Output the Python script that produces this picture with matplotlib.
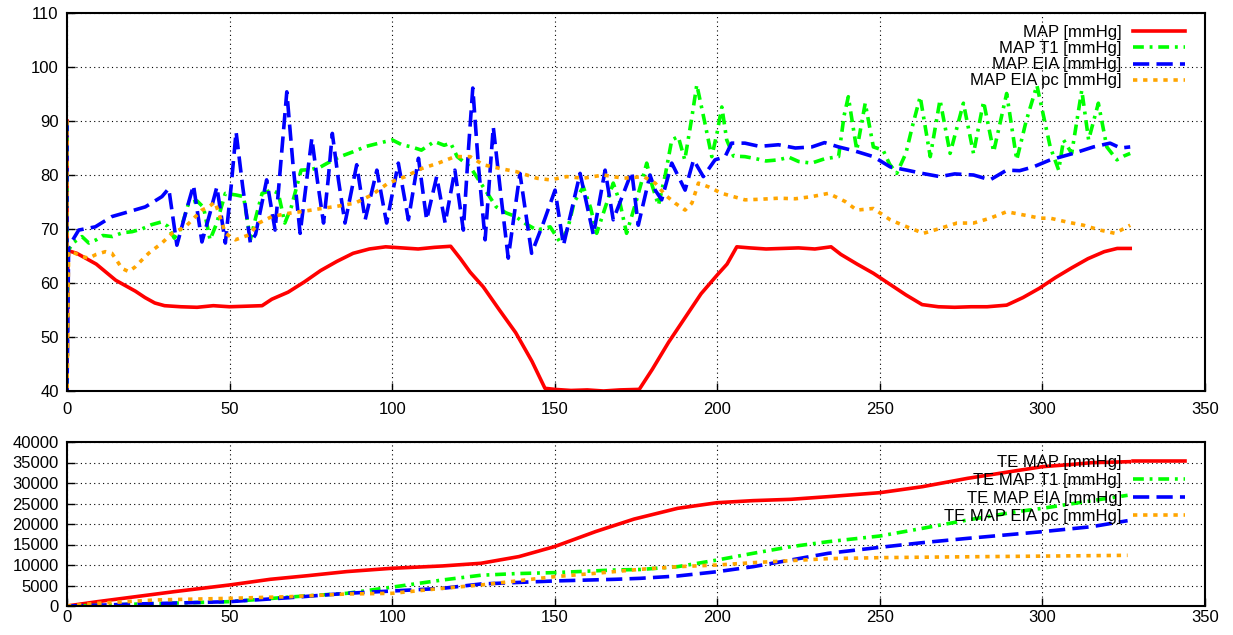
import numpy as np
import matplotlib
matplotlib.use('Agg')
import matplotlib.pyplot as plt

plt.rcParams['font.family'] = ['Liberation Sans', 'DejaVu Sans']
plt.rcParams['font.size'] = 12

# (time, value) samples
map_red = [(0, 90), (0, 40), (0.3, 66), (3, 65.5), (6, 64.5), (9, 63.5), (12, 62), (15, 60.5), (18, 59.5),
           (21, 58.5), (24, 57.3), (27, 56.3), (30, 55.8), (35, 55.6), (40, 55.5), (45, 55.8), (50, 55.6),
           (55, 55.7), (60, 55.8), (63, 57), (68, 58.3), (73, 60.2), (78, 62.3), (83, 64), (88, 65.5),
           (93, 66.3), (98, 66.7), (103, 66.5), (108, 66.3), (113, 66.6), (118, 66.8), (121, 64.5),
           (124, 62), (128, 59.3), (133, 55), (138, 50.8), (143, 45.5), (147, 40.5), (150, 40.3),
           (155, 40.1), (160, 40.2), (165, 40.0), (170, 40.2), (176, 40.3), (180, 44), (185, 49),
           (190, 53.5), (195, 58), (200, 61.5), (203, 63.5), (206, 66.7), (210, 66.5), (215, 66.3),
           (220, 66.4), (225, 66.5), (230, 66.3), (235, 66.7), (238, 65.3), (243, 63.5), (248, 61.8),
           (253, 59.8), (258, 57.8), (263, 56), (268, 55.6), (273, 55.5), (278, 55.6), (283, 55.6),
           (289, 55.9), (294, 57.3), (299, 59), (304, 61), (309, 62.8), (314, 64.5), (319, 65.8),
           (323, 66.4), (327, 66.4)]

map_t1 = [(0, 90), (0, 40), (0.3, 66), (2, 67.5), (4.6, 68.6), (6.7, 67.4), (9, 68), (11, 68.8), (14, 68.6),
          (17, 69.3), (20, 69.5), (23, 70), (26, 70.8), (29, 71.3), (31, 70.5), (33, 68.3), (35, 70),
          (37.4, 74.8), (40, 75.2), (42, 74), (44, 68), (46, 71), (48.7, 76.6), (52, 76.3), (54.3, 76),
          (56.4, 68), (58, 72), (60, 76.6), (63, 77.2), (65, 76.6), (67, 71.1), (69, 74.1), (72, 80.9),
          (75, 81), (78, 81.5), (81, 82.5), (84, 83.4), (88, 84.3), (92, 85.3), (96, 85.9), (100, 86.5),
          (103, 85.6), (106, 85.2), (109, 84.6), (113, 86.2), (116, 85.5), (118, 85.9), (120, 83.4),
          (124, 81.5), (128, 77.8), (132, 74.1), (135, 73), (138, 72.3), (141, 71), (144.5, 69.8),
          (148.6, 70.4), (151.7, 67.5), (154, 70), (156, 75), (158.8, 77.8), (161, 74), (162.9, 69.2),
          (165, 73), (168, 78.5), (170, 75), (172.1, 69.2), (175, 75), (178.3, 82.2), (180, 78),
          (181.9, 74.4), (184, 80), (186, 86.5), (188, 87.1), (190, 82.8), (192, 90), (193.7, 96.7),
          (196.2, 89.6), (198.3, 83.4), (200, 88), (201.4, 92.6), (202.9, 86.5), (205, 83.5),
          (208.5, 83.4), (212, 83), (215, 82.6), (218.8, 82.8), (222, 83.3), (225, 82.5), (229, 82.2),
          (233, 83), (237.3, 83.4), (239, 91), (240.3, 94.5), (242.9, 84.6), (245.5, 93.3), (248, 85.2),
          (251, 84.6), (253, 82), (255.2, 80.3), (258, 84), (260, 89), (262.4, 94.5), (265.5, 83.4),
          (268.5, 93.9), (271.6, 84), (275.7, 93.3), (278.8, 84), (281.9, 93.6), (285, 84.3), (289, 95.1),
          (292.1, 82.8), (295, 90), (298.3, 96.6), (302.4, 85.2), (305, 80.9), (306.5, 86.5), (309, 84),
          (312.1, 95.7), (314.2, 86.5), (317.2, 93.3), (319.8, 85.2), (322.9, 82.8), (325, 83.5), (327, 84)]

map_eia = [(0, 90), (0, 40), (0.5, 66.7), (3.6, 69.8), (8.7, 70.4), (13.8, 72.3), (19, 73.2), (24.1, 74.1),
           (29.2, 76), (31.3, 77.5), (33.8, 67), (36.5, 73), (38.9, 78.1), (41.5, 67.6), (44, 73),
           (46.1, 77.8), (48.7, 67.4), (50.5, 78), (52, 88), (54, 78), (56.4, 67.4), (58, 69), (61.4, 79.1),
           (64, 69.8), (66, 84), (67.6, 95.4), (69.5, 82), (71.7, 69.2), (73.5, 78), (75.3, 86.8), (77, 79),
           (78.9, 71.1), (80.3, 79), (81.6, 87.7), (83.5, 79), (85.5, 71.1), (89.1, 81.9), (91.7, 71.7),
           (95.3, 80.9), (98.3, 71.1), (101.9, 82.2), (105, 71.7), (108.1, 83.1), (110.6, 71.7),
           (113.7, 79.7), (116.3, 71.1), (119.3, 80.9), (121.9, 69.8), (123.5, 85), (124.8, 96.1),
           (126.5, 82), (128.6, 68), (131.1, 88.9), (133.5, 76), (135.7, 64.6), (139.3, 80.3),
           (142.9, 65.5), (146.5, 71.1), (150.1, 77.2), (152.7, 67), (157.8, 80.3), (161.9, 68.9),
           (165.5, 80.9), (168, 71.7), (173.7, 80.6), (175.7, 70.7), (179.3, 80), (180.9, 77.2),
           (182.9, 75.4), (186, 82.2), (190.1, 77.2), (192.7, 82.8), (195.7, 79.7), (199.3, 82.8),
           (202.4, 83.4), (204.4, 85.9), (208.5, 85.9), (213, 85.3), (218.8, 85.6), (224, 85),
           (229.1, 85.2), (233, 86), (237.3, 85.2), (242, 84.5), (248, 83.4), (253.2, 81.5), (258.3, 80.9),
           (263, 80.3), (268.5, 79.7), (273, 80.2), (278.8, 80), (283.9, 79.1), (289, 80.9), (293, 80.8),
           (297.2, 81.5), (302.4, 82.8), (309.5, 84), (315.7, 85.2), (320.8, 85.9), (324, 85), (327, 85.2)]

map_eia_pc = [(0, 90), (0, 40), (0.5, 65.8), (2.5, 65.5), (4.6, 64.9), (6.7, 64.6), (9, 65.3), (11.8, 65.8),
              (13.8, 65.5), (15.5, 64), (16.9, 62.7), (19, 62.1), (21, 63), (23.1, 64.3), (25.1, 65.5),
              (29.2, 67.4), (32.3, 69.2), (36.4, 70.4), (39.5, 72.3), (41.5, 73.5), (43.6, 74.1), (45.5, 75),
              (46.7, 72.9), (48.7, 69.2), (51.8, 68), (55.9, 68.9), (59, 71.1), (63, 72.3), (68.1, 72.9),
              (73, 73.3), (78.3, 73.8), (83, 74.2), (88.6, 74.8), (93.7, 76.3), (98.8, 78.5), (104, 79.7),
              (109.1, 81.2), (114.2, 82.2), (119.3, 83.4), (124, 83.4), (128, 81.9), (133.2, 81.2),
              (138.3, 80.6), (144.5, 79.4), (148.6, 79.1), (153.7, 79.7), (158.8, 79.4), (165, 80),
              (171.1, 79.4), (177.3, 79.7), (180.9, 78.5), (184, 76.3), (187, 74.8), (190.1, 73.5),
              (192.2, 74.8), (194.2, 78.5), (197.3, 77.8), (201.4, 76.6), (208.5, 75.4), (213, 75.5),
              (218.8, 75.7), (224, 75.6), (229.1, 76), (234.2, 76.6), (239.3, 75.1), (242.9, 73.5),
              (248, 73.8), (253.2, 71.7), (258.3, 70.4), (263.4, 69.2), (268.5, 70.1), (273.7, 71.1),
              (278.8, 71.1), (283.9, 72), (289, 73.2), (294.2, 72.6), (299.3, 72), (302.4, 72),
              (307.5, 71.3), (312.6, 70.7), (317.7, 69.8), (322.3, 69.2), (327, 70.7)]

te_map = [(0, 0), (9.4, 1060), (21.2, 2280), (33, 3500), (50, 5130), (62.5, 6510), (74.2, 7410), (86, 8390),
          (100, 9200), (115.5, 9770), (127.3, 10420), (139, 12050), (150, 14500), (162.6, 18160),
          (174.4, 21200), (187.8, 23820), (200, 25200), (211, 25700), (222.6, 26020), (234.1, 26670),
          (250, 27640), (263.1, 29100), (277, 31140), (292, 33000), (300, 33980), (309.4, 34550),
          (315.2, 34960), (326.7, 35200)]

te_t1 = [(0, 0), (10, 150), (21, 450), (35, 750), (50, 1060), (68.6, 2200), (86, 3090), (100, 4600),
         (115.5, 6350), (127.3, 7500), (138, 7900), (150, 8140), (168.5, 8790), (176.3, 8900),
         (187.8, 9590), (200, 11220), (211, 12850), (222.6, 14470), (234.1, 15690), (250, 17070),
         (263.1, 18940), (277, 20980), (292, 23000), (300, 23820), (315.2, 25690), (326.2, 27000)]

te_eia = [(0, 0), (10, 200), (21.2, 490), (35, 750), (50, 1060), (68.6, 2040), (86, 3090), (100, 3660),
          (115.5, 4310), (127.3, 5370), (150, 6110), (168.5, 6510), (176.3, 6750), (187.8, 7320),
          (200, 8370), (211, 9590), (222.6, 11220), (234.1, 12850), (250, 14310), (263.1, 15450),
          (277, 16500), (292, 17560), (300, 18130), (315.2, 19350), (326.2, 20810)]

te_eia_pc = [(0, 0), (9.4, 650), (27, 1470), (50, 1870), (68.6, 2280), (86, 2930), (100, 3090),
             (115.5, 4310), (127.3, 5130), (150, 7160), (162.6, 7980), (176.3, 8940), (187.8, 9590),
             (200, 10000), (211, 10570), (222.6, 11060), (234.1, 11550), (250, 11790), (268.9, 11950),
             (292, 12110), (326.2, 12360)]

top_labels = ['MAP [mmHg]', 'MAP T1 [mmHg]', 'MAP EIA [mmHg]', 'MAP EIA pc [mmHg]']
bottom_labels = ['TE ' + s for s in top_labels]

styles = [dict(color='#ff0000', ls='-'),
          dict(color='#00ff00', dashes=(3, 1.6, 0.8, 1.6)),
          dict(color='#0000ff', dashes=(4.5, 2)),
          dict(color='#ffa500', dashes=(1.2, 1.6))]

fig = plt.figure(figsize=(12.33, 6.35), dpi=100)
ax1 = fig.add_axes([67 / 1233, 1 - 391 / 635, 1138 / 1233, 378 / 635])
ax2 = fig.add_axes([67 / 1233, 1 - 606 / 635, 1138 / 1233, 164 / 635])


def setup(ax, ylim, ystep, xpad):
    ax.set_xlim(0, 350)
    ax.set_ylim(*ylim)
    ax.set_xticks(np.arange(0, 351, 50))
    ax.set_yticks(np.arange(ylim[0], ylim[1] + 1, ystep))
    ax.grid(True, color='black', ls=(0, (1, 3)), lw=0.8)
    ax.tick_params(direction='in', length=6, width=1, labelsize=12)
    ax.tick_params(axis='y', pad=6)
    ax.tick_params(axis='x', pad=xpad)
    for s in ax.spines.values():
        s.set_linewidth(1.5)


for series, lab, st in zip([map_red, map_t1, map_eia, map_eia_pc], top_labels, styles):
    t, v = np.array(series).T
    ax1.plot(t, v, lw=2.6, label=lab, **st)

for series, lab, st in zip([te_map, te_t1, te_eia, te_eia_pc], bottom_labels, styles):
    t, v = np.array(series).T
    ax2.plot(t, v, lw=2.6, label=lab, **st)

setup(ax1, (40, 110), 10, 8)
setup(ax2, (0, 40000), 5000, 3)

for ax, anchor, spacing in [(ax1, (1 - 20 / 1138, 1 - 12 / 378), 0.07),
                            (ax2, (1 - 20 / 1138, 1 - 13 / 164), 0.17)]:
    ax.legend(loc='upper right', bbox_to_anchor=anchor, frameon=False, markerfirst=False,
              alignment='right', handlelength=3.1, handletextpad=0.7, labelspacing=spacing,
              borderpad=0, borderaxespad=0, fontsize=12)

fig.savefig('out.png', dpi=100)
